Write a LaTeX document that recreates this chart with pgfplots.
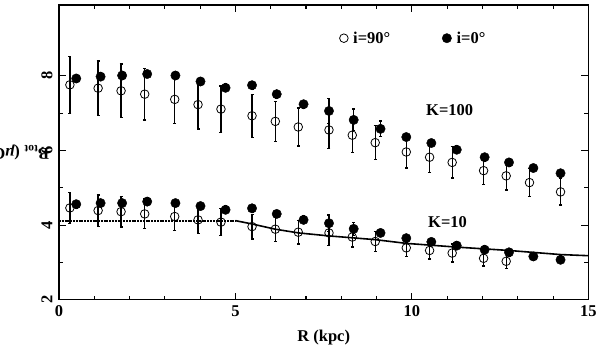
\documentclass[border=0pt]{standalone}
\usepackage{fontspec}
\setmainfont{Liberation Serif}
\usepackage{pgfplots}
\pgfplotsset{compat=1.18}

\begin{document}
\begin{tikzpicture}[font=\fontsize{16.5}{19}\selectfont\bfseries]
  \begin{axis}[
      scale only axis,
      width=530pt, height=295pt,
      xmin=0, xmax=15,
      ymin=2, ymax=9.9,
      xtick={0,5,10,15},
      ytick={2,4,6,8},
      minor x tick num=4,
      minor y tick num=1,
      tick align=inside,
      major tick length=7pt,
      minor tick length=4pt,
      axis line style={line width=1.2pt},
      every tick/.style={black, line width=1.1pt},
      /pgf/number format/assume math mode=true,
      xticklabel shift=2pt,
      yticklabel shift=3pt,
      yticklabel style={rotate=90, anchor=south},
      xlabel={R (kpc)},
      ylabel={B\textsubscript{tot} (\textit{μ}G)},
      xlabel style={at={([yshift=-38pt]axis description cs:0.5,0)}, anchor=center},
      ylabel style={at={([xshift=-41pt]axis description cs:0,0.5)}, anchor=center, rotate=90, overlay},
      legend columns=2,
      legend style={draw=none, fill=none, at={(axis cs:7.86,9.01)}, anchor=west,
        /tikz/every odd column/.append style={column sep=3pt},
        /tikz/every even column/.append style={column sep=50pt}},
      clip=false,
    ]
    % model curve for K=10
    \addplot[forget plot, black, line width=1.8pt, dash pattern=on 2pt off 0.8pt] coordinates {
      (0,4.12) (5.0,4.12)
    };
    \addplot[forget plot, black, line width=1.6pt] coordinates {
      (5.0,4.12) (5.47,4.03) (6.13,3.89) (6.79,3.79) (7.65,3.71) (8.96,3.61)
      (9.84,3.51) (11.27,3.41) (12.75,3.32) (14.21,3.21) (15,3.18)
    };

    % K=100, i=90
    \addplot[forget plot, only marks, mark=o, mark size=4.3pt, line width=0.8pt,
      mark options={fill=white},
      error bars/.cd, y dir=both, y explicit,
      error bar style={line width=1.3pt}, error mark options={rotate=90, mark size=1.5pt, line width=1.3pt}]
      coordinates {
      (0.31,7.76) +- (0,0.76)
      (1.11,7.67) +- (0,0.73)
      (1.76,7.60) +- (0,0.72)
      (2.43,7.51) +- (0,0.69)
      (3.28,7.37) +- (0,0.65)
      (3.94,7.23) +- (0,0.65)
      (4.59,7.11) +- (0,0.62)
      (5.47,6.93) +- (0,0.58)
      (6.13,6.78) +- (0,0.54)
      (6.78,6.63) +- (0,0.51)
      (7.65,6.55) +- (0,0.49)
      (8.31,6.41) +- (0,0.46)
      (8.96,6.21) +- (0,0.46)
      (9.84,5.96) +- (0,0.43)
      (10.50,5.82) +- (0,0.41)
      (11.14,5.68) +- (0,0.42)
      (12.03,5.46) +- (0,0.38)
      (12.67,5.32) +- (0,0.38)
      (13.33,5.14) +- (0,0.38)
      (14.21,4.89) +- (0,0.35)
    };
    % K=100, i=0
    \addplot[forget plot, only marks, mark=*, mark size=4.7pt,
      error bars/.cd, y dir=both, y explicit,
      error bar style={line width=1.3pt}, error mark options={rotate=90, mark size=1.5pt, line width=1.3pt}]
      coordinates {
      (0.49,7.93) +- (0,0.1)
      (1.18,7.98) +- (0,0.1)
      (1.79,8.01) +- (0,0.1)
      (2.50,8.05) +- (0,0.1)
      (3.30,8.01) +- (0,0.1)
      (4.01,7.85) +- (0,0.1)
      (4.72,7.68) +- (0,0.1)
      (5.47,7.75) +- (0,0.1)
      (6.17,7.51) +- (0,0.1)
      (6.93,7.24) +- (0,0.1)
      (7.65,7.06) +- (0,0.34)
      (8.35,6.82) +- (0,0.29)
      (9.11,6.58) +- (0,0.21)
      (9.84,6.36) +- (0,0.1)
      (10.55,6.20) +- (0,0.1)
      (11.27,6.02) +- (0,0.1)
      (12.06,5.82) +- (0,0.1)
      (12.75,5.68) +- (0,0.1)
      (13.44,5.53) +- (0,0.1)
      (14.21,5.39) +- (0,0.1)
    };

    % K=10, i=90
    \addplot[forget plot, only marks, mark=o, mark size=4.3pt, line width=0.8pt,
      mark options={fill=white},
      error bars/.cd, y dir=both, y explicit,
      error bar style={line width=1.3pt}, error mark options={rotate=90, mark size=1.5pt, line width=1.3pt}]
      coordinates {
      (0.31,4.46) +- (0,0.42)
      (1.11,4.39) +- (0,0.42)
      (1.76,4.36) +- (0,0.41)
      (2.43,4.30) +- (0,0.40)
      (3.28,4.23) +- (0,0.38)
      (3.94,4.14) +- (0,0.37)
      (4.59,4.08) +- (0,0.36)
      (5.47,3.96) +- (0,0.33)
      (6.13,3.89) +- (0,0.33)
      (6.78,3.81) +- (0,0.32)
      (7.65,3.79) +- (0,0.33)
      (8.31,3.68) +- (0,0.27)
      (8.96,3.56) +- (0,0.27)
      (9.84,3.39) +- (0,0.23)
      (10.50,3.32) +- (0,0.23)
      (11.14,3.25) +- (0,0.24)
      (12.03,3.11) +- (0,0.21)
      (12.67,3.03) +- (0,0.20)
    };
    % K=10, i=0
    \addplot[forget plot, only marks, mark=*, mark size=4.7pt,
      error bars/.cd, y dir=both, y explicit,
      error bar style={line width=1.3pt}, error mark options={rotate=90, mark size=1.5pt, line width=1.3pt}]
      coordinates {
      (0.49,4.56) +- (0,0.1)
      (1.18,4.59) +- (0,0.1)
      (1.79,4.59) +- (0,0.1)
      (2.50,4.63) +- (0,0.1)
      (3.30,4.59) +- (0,0.1)
      (4.01,4.51) +- (0,0.1)
      (4.72,4.41) +- (0,0.1)
      (5.47,4.45) +- (0,0.1)
      (6.17,4.30) +- (0,0.1)
      (6.93,4.14) +- (0,0.1)
      (7.65,4.05) +- (0,0.22)
      (8.35,3.90) +- (0,0.17)
      (9.11,3.79) +- (0,0.1)
      (9.84,3.65) +- (0,0.1)
      (10.55,3.55) +- (0,0.1)
      (11.27,3.45) +- (0,0.1)
      (12.06,3.34) +- (0,0.1)
      (12.75,3.27) +- (0,0.1)
      (13.44,3.16) +- (0,0.1)
      (14.21,3.07) +- (0,0.1)
    };

    \addlegendimage{only marks, mark=o, mark size=4.3pt, line width=0.8pt}
    \addlegendentry{i=90°}
    \addlegendimage{only marks, mark=*, mark size=4.7pt}
    \addlegendentry{i=0°}

    \node at (axis cs:11.07,7.09) {K=100};
    \node at (axis cs:11.01,4.08) {K=10};
  \end{axis}
  \path ([shift={(-59pt,-51pt)}]current axis.south west) rectangle ([shift={(11pt,5pt)}]current axis.north east);
\end{tikzpicture}
\end{document}
